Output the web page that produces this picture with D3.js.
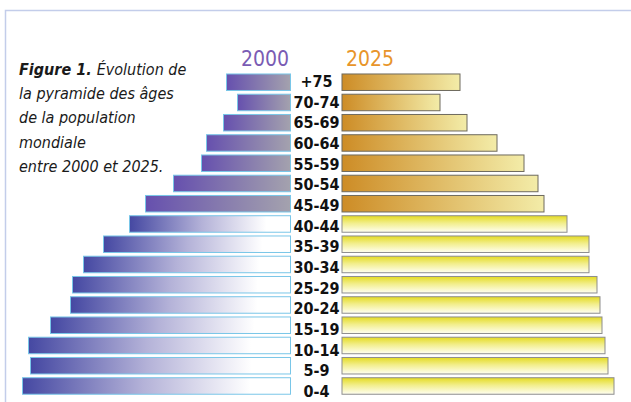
<!DOCTYPE html>
<html>
<head>
<meta charset="utf-8">
<script src="https://cdn.jsdelivr.net/npm/d3@7"></script>
<style>
  body { margin: 0; background: #fff; }
  svg { display: block; }
</style>
</head>
<body>
<div id="pyramid"></div>
<script>
// age groups, top to bottom
const ages = ["+75", "70-74", "65-69", "60-64", "55-59", "50-54", "45-49", "40-44",
  "35-39", "30-34", "25-29", "20-24", "15-19", "10-14", "5-9", "0-4"];
// bar lengths (relative units)
const pop2000 = [64, 53, 67, 84, 89, 117, 145, 161, 187, 207, 218, 220, 240, 262, 260, 268];
const pop2025 = [118, 98, 125, 155, 182, 196, 202, 225, 247, 247, 255, 258, 260, 263, 266, 272];
const years = ["2000", "2025"];
const captionLines = ["Évolution de", "la pyramide des âges", "de la population", "mondiale", "entre 2000 et 2025."];

const W = 631, H = 402;
const centerL = 290.5, centerR = 342;

const svg = d3.select("#pyramid").append("svg")
  .attr("width", W).attr("height", H);

const defs = svg.append("defs");

function hGrad(id, stops) {
  const g = defs.append("linearGradient").attr("id", id)
    .attr("x1", "0%").attr("x2", "100%").attr("y1", "0%").attr("y2", "0%");
  stops.forEach(s => g.append("stop").attr("offset", s[0]).attr("stop-color", s[1]));
}
hGrad("oldLeft", [["0%", "#6650ae"], ["100%", "#a4a2ae"]]);
hGrad("youngLeft", [["0%", "#4548a2"], ["45%", "#b4b2d8"], ["85%", "#ffffff"], ["100%", "#ffffff"]]);
hGrad("oldRight", [["0%", "#cd8c26"], ["100%", "#f3eca8"]]);

const vg = defs.append("linearGradient").attr("id", "youngRight")
  .attr("x1", "0%").attr("x2", "0%").attr("y1", "0%").attr("y2", "100%");
vg.append("stop").attr("offset", "0%").attr("stop-color", "#e4db22");
vg.append("stop").attr("offset", "45%").attr("stop-color", "#f2ee8c");
vg.append("stop").attr("offset", "100%").attr("stop-color", "#fffff2");

// frame
svg.append("path")
  .attr("d", `M5.5,${H} V10.5 H${W}`)
  .attr("fill", "none")
  .attr("stroke", "#c3cdea")
  .attr("stroke-width", 1.5);

const y = d3.scaleBand()
  .domain(ages)
  .range([72.1, 72.1 + ages.length * 20.25])
  .paddingInner(0.185)
  .paddingOuter(0.0925);

const x = d3.scaleLinear().domain([0, 280]).range([0, 280]);

const labelY = d3.scalePoint().domain(ages).range([87, 397]);

const rows = ages.map((a, i) => ({ age: a, v0: pop2000[i], v1: pop2025[i], old: i < 7 }));

// 2000 bars (left)
svg.append("g").selectAll("rect").data(rows).join("rect")
  .attr("x", d => centerL - x(d.v0))
  .attr("y", d => y(d.age))
  .attr("width", d => x(d.v0))
  .attr("height", y.bandwidth())
  .attr("fill", d => d.old ? "url(#oldLeft)" : "url(#youngLeft)")
  .attr("stroke", "#79c6e8")
  .attr("stroke-width", 1);

// 2025 bars (right)
svg.append("g").selectAll("rect").data(rows).join("rect")
  .attr("x", centerR)
  .attr("y", d => y(d.age))
  .attr("width", d => x(d.v1))
  .attr("height", y.bandwidth())
  .attr("fill", d => d.old ? "url(#oldRight)" : "url(#youngRight)")
  .attr("stroke", d => d.old ? "#6e6a5e" : "#8d8d8d")
  .attr("stroke-width", 1);

// age labels
svg.append("g").selectAll("text").data(ages).join("text")
  .attr("x", 316.5)
  .attr("y", d => labelY(d))
  .attr("text-anchor", "middle")
  .attr("font-family", "DejaVu Sans Condensed, DejaVu Sans")
  .attr("font-stretch", "condensed")
  .attr("font-weight", "bold")
  .attr("font-size", 16)
  .attr("fill", "#111")
  .text(d => d);

// year headers
svg.append("text")
  .attr("x", 265).attr("y", 66)
  .attr("text-anchor", "middle")
  .attr("font-family", "DejaVu Sans Condensed, DejaVu Sans")
  .attr("font-stretch", "condensed")
  .attr("font-size", 21)
  .attr("fill", "#7a5cb4")
  .text(years[0]);
svg.append("text")
  .attr("x", 370).attr("y", 66)
  .attr("text-anchor", "middle")
  .attr("font-family", "DejaVu Sans Condensed, DejaVu Sans")
  .attr("font-stretch", "condensed")
  .attr("font-size", 21)
  .attr("fill", "#e8952a")
  .text(years[1]);

// caption
const cap = svg.append("g")
  .attr("font-family", "DejaVu Sans Condensed, DejaVu Sans")
  .attr("font-stretch", "condensed")
  .attr("font-style", "italic")
  .attr("font-size", 16)
  .attr("fill", "#1a1a1a");
const capY = [75, 99, 123, 148, 172];
const first = cap.append("text").attr("x", 19).attr("y", capY[0]);
first.append("tspan").attr("font-weight", "bold").text("Figure 1. ");
first.append("tspan").text(captionLines[0]);
captionLines.slice(1).forEach((t, i) => {
  cap.append("text").attr("x", 19).attr("y", capY[i + 1]).text(t);
});
</script>
</body>
</html>
